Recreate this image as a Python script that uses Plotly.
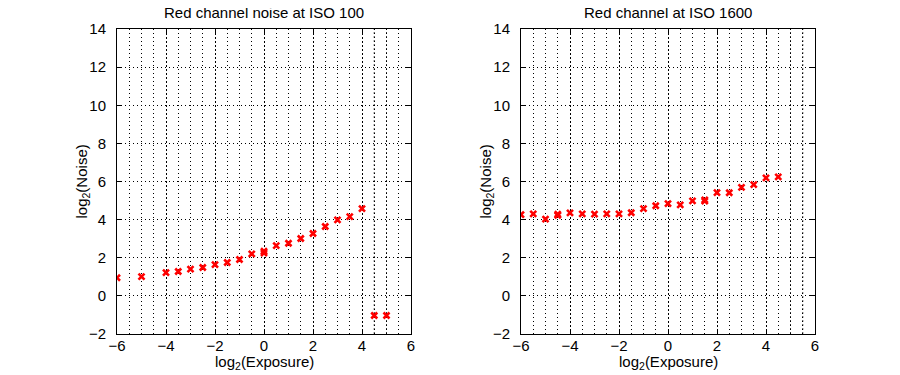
import plotly.graph_objects as go

# ---- data ----
iso100_x = [-6, -5, -4, -3.5, -3, -2.5, -2, -1.5, -1, -0.5, 0, 0, 0.5, 1, 1.5, 2, 2.5, 3, 3.5, 4, 4.5, 5]
iso100_y = [0.95, 1.01, 1.22, 1.28, 1.40, 1.49, 1.64, 1.75, 1.91, 2.20, 2.25, 2.34, 2.64, 2.76, 3.01, 3.27, 3.64, 3.99, 4.16, 4.58, -1.03, -1.03]

iso1600_x = [-6, -5.5, -5, -4.5, -4.5, -4, -3.5, -3, -2.5, -2, -1.5, -1, -0.5, 0, 0.5, 1, 1.5, 1.5, 2, 2.5, 3, 3.5, 4, 4.5]
iso1600_y = [4.26, 4.30, 4.03, 4.22, 4.28, 4.35, 4.30, 4.29, 4.30, 4.30, 4.36, 4.58, 4.73, 4.84, 4.77, 4.98, 4.97, 5.04, 5.42, 5.41, 5.69, 5.84, 6.19, 6.24]

titles = ["Red channel noise at ISO 100", "Red channel at ISO 1600"]
x_title = "log<sub>2</sub>(Exposure)"
y_title = "log<sub>2</sub>(Noise)"
x_ticks = [-6, -4, -2, 0, 2, 4, 6]
y_ticks = [-2, 0, 2, 4, 6, 8, 10, 12, 14]
extra_grid_left = [4.5, 5]
extra_grid_right = [5, 5.5]

FONT = "Liberation Sans, Arial, Helvetica, sans-serif"
FS = 15
W, H = 892, 367  # page body has an 8px margin; layout coords are reference coords minus 8

def px_x(v):
    return v / W

def px_y(v):
    return 1 - v / H

fig = go.Figure()
marker = dict(symbol="x-thin", size=6, color="red", line=dict(color="red", width=2.6))
fig.add_trace(go.Scatter(x=iso100_x, y=iso100_y, mode="markers", marker=marker,
                         xaxis="x", yaxis="y", showlegend=False))
fig.add_trace(go.Scatter(x=iso1600_x, y=iso1600_y, mode="markers", marker=marker,
                         xaxis="x2", yaxis="y2", showlegend=False))

common_x = dict(range=[-6, 6], tickvals=x_ticks, ticks="inside", ticklen=5, tickcolor="black",
                showline=True, linecolor="black", linewidth=1, mirror="ticks", automargin=False,
                showgrid=True, gridcolor="black", griddash="2px,2px", gridwidth=1,
                ticklabelstandoff=-2,
                zeroline=False, tickfont=dict(family=FONT, size=FS, color="black"),
                minor=dict(dtick=0.5, tick0=-6, showgrid=True, gridcolor="black",
                           griddash="1px,3px", gridwidth=1))
common_y = dict(range=[-2, 14], tickvals=y_ticks, ticks="inside", ticklen=5, tickcolor="black",
                showline=True, linecolor="black", linewidth=1, mirror="ticks", automargin=False,
                showgrid=True, gridcolor="black", griddash="1px,3px", gridwidth=1,
                ticklabelstandoff=7,
                zeroline=False, tickfont=dict(family=FONT, size=FS, color="black"))

ydom = [px_y(326), px_y(21)]
left_dom = [px_x(109), px_x(403)]
right_dom = [px_x(513), px_x(807)]
fig.update_layout(
    width=W, height=H, margin=dict(l=0, r=0, t=0, b=0, autoexpand=False),
    paper_bgcolor="white", plot_bgcolor="white",
    xaxis=dict(common_x, domain=left_dom, anchor="y"),
    yaxis=dict(common_y, domain=ydom, anchor="x"),
    xaxis2=dict(common_x, domain=right_dom, anchor="y2"),
    yaxis2=dict(common_y, domain=ydom, anchor="x2"),
)

for xv in extra_grid_left:
    fig.add_shape(type="line", xref="x", yref="y", x0=xv, x1=xv, y0=-2, y1=14,
                  line=dict(color="rgba(0,0,0,0.8)", width=1, dash="2px,2px"), layer="below")
for xv in extra_grid_right:
    fig.add_shape(type="line", xref="x2", yref="y2", x0=xv, x1=xv, y0=-2, y1=14,
                  line=dict(color="rgba(0,0,0,0.8)", width=1, dash="2px,2px"), layer="below")

txt_font = dict(family=FONT, size=FS, color="black")
for t, dom, ytx in zip(titles, [left_dom, right_dom], [74, 478]):
    cx = (dom[0] + dom[1]) / 2
    fig.add_annotation(text=t, x=cx, y=px_y(5), xref="paper", yref="paper",
                       showarrow=False, xanchor="center", yanchor="middle", font=txt_font)
    fig.add_annotation(text=x_title, x=cx, y=px_y(354), xref="paper", yref="paper",
                       showarrow=False, xanchor="center", yanchor="middle", font=txt_font)
    fig.add_annotation(text=y_title, x=px_x(ytx), y=(ydom[0] + ydom[1]) / 2, xref="paper", yref="paper",
                       showarrow=False, xanchor="center", yanchor="middle", textangle=-90, font=txt_font)

fig.write_html("out.html")
